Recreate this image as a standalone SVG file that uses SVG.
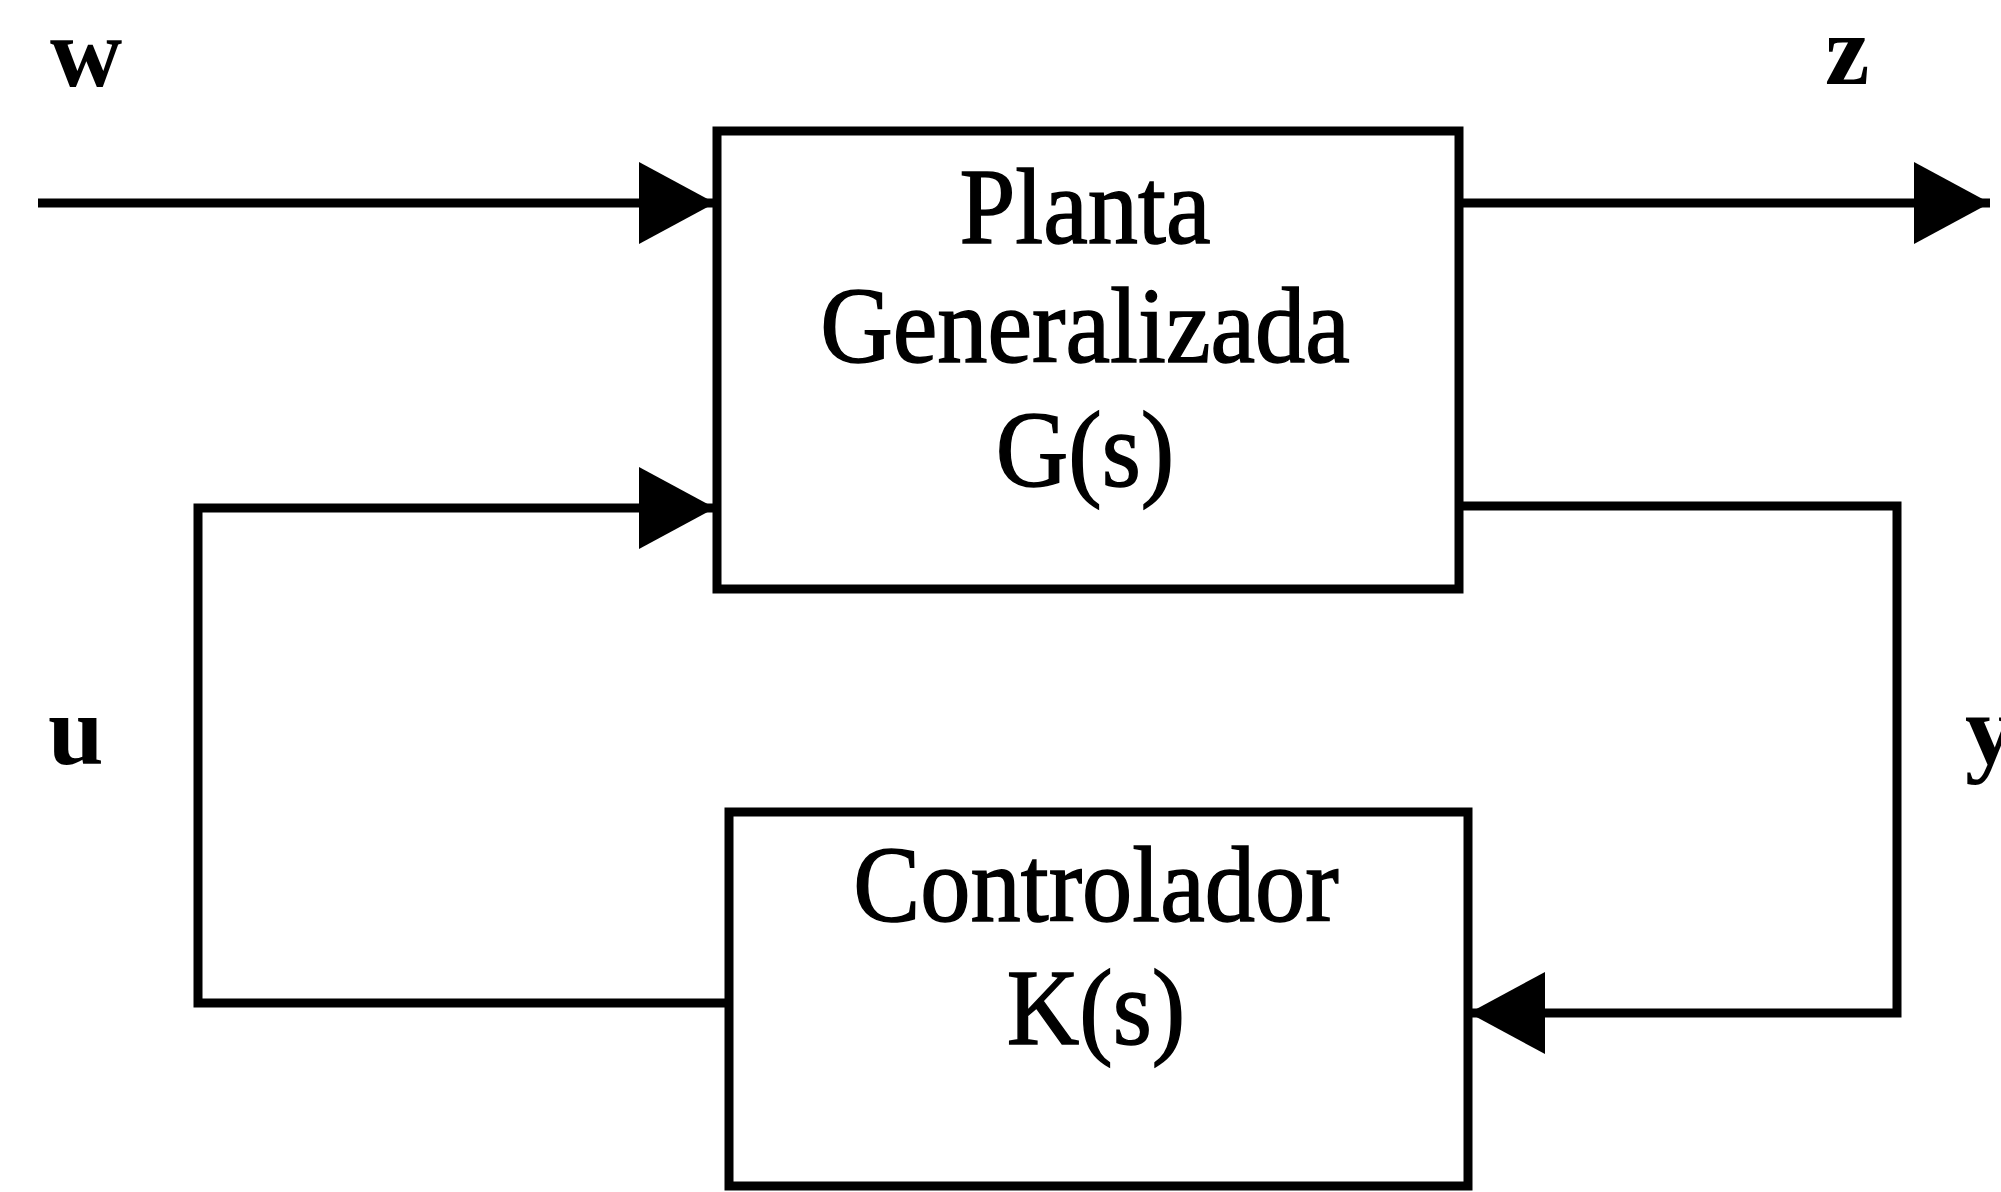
<svg xmlns="http://www.w3.org/2000/svg" width="2001" height="1192" viewBox="0 0 2001 1192">
<style>
.box{fill:#fff;stroke:#000;stroke-width:9}
.wire{fill:none;stroke:#000;stroke-width:9;stroke-linejoin:miter}
.lbl{font-family:"Liberation Serif","Times New Roman",serif;font-size:108px;fill:#000;stroke:#000;stroke-width:1.5;text-anchor:middle}
.sig{font-family:"Liberation Serif","Times New Roman",serif;font-size:100px;font-weight:bold;fill:#000}
</style>
<defs>
<marker id="ah" viewBox="0 0 76 82" refX="76" refY="41" markerWidth="76" markerHeight="82" markerUnits="userSpaceOnUse" orient="auto">
<path d="M0,0 L76,41 L0,82 Z" fill="#000"/>
</marker>
</defs>
<rect width="2001" height="1192" fill="#fff"/>
<g id="connectors">
<path class="wire" d="M38,203 L715,203" marker-end="url(#ah)"/>
<path class="wire" d="M1459,203 L1990,203" marker-end="url(#ah)"/>
<path class="wire" d="M729,1003 L198,1003 L198,508 L715,508" marker-end="url(#ah)"/>
<path class="wire" d="M1459,506 L1897,506 L1897,1013 L1469,1013" marker-end="url(#ah)"/>
</g>
<g id="planta">
<rect class="box" x="717" y="131" width="742" height="458"/>
<text class="lbl" transform="translate(1085,243) scale(0.93,1)">Planta</text>
<text class="lbl" transform="translate(1085,362) scale(0.93,1)">Generalizada</text>
<text class="lbl" transform="translate(1085,486) scale(0.93,1)">G(s)</text>
</g>
<g id="controlador">
<rect class="box" x="729" y="812" width="739" height="374"/>
<text class="lbl" transform="translate(1096,921) scale(0.93,1)">Controlador</text>
<text class="lbl" transform="translate(1096,1044) scale(0.93,1)">K(s)</text>
</g>
<g id="labels">
<text class="sig" x="50" y="86">w</text>
<text class="sig" x="1825" y="84">z</text>
<text class="sig" x="48" y="764">u</text>
<text class="sig" x="1965" y="764">y</text>
</g>
</svg>
